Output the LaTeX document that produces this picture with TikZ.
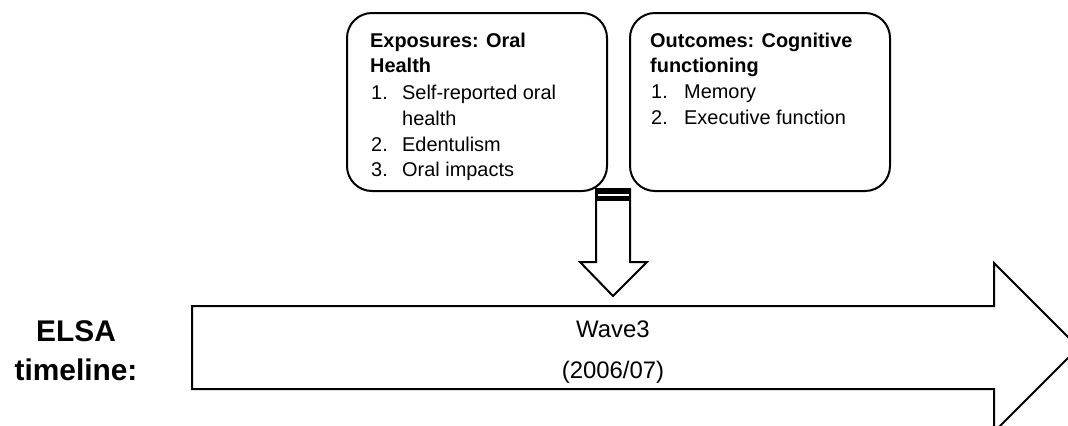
\documentclass[tikz,border=0pt]{standalone}
\usepackage{fontspec}
\setmainfont{Liberation Sans}
\begin{document}
\begin{tikzpicture}[x=1bp,y=-1bp,line join=miter,
  panel/.style={draw,line width=2bp,rounded corners=25bp,minimum width=260bp,minimum height=178bp,anchor=north west,inner sep=0,outer sep=0},
  headtxt/.style={font=\fontsize{20}{25}\selectfont\bfseries,anchor=base west,inner sep=0},
  itemtxt/.style={font=\fontsize{20}{25}\selectfont,anchor=base west,inner sep=0},
  wavetxt/.style={font=\fontsize{24}{28}\selectfont,anchor=base,inner sep=0},
  elsatxt/.style={font=\fontsize{30}{34}\selectfont\bfseries,anchor=base,inner sep=0},
  blockarrow/.style={draw,line width=2bp,fill=white}]
\useasboundingbox (0,0) rectangle (1068,425);
\clip (0,0) rectangle (1068,425);

% the two panels
\node[panel] (expo) at (347,13) {};
\node[panel] (outc) at (630,13) {};

% exposures panel text
\node[headtxt] (e1) at (370,47) {Exposures: Oral};
\node[headtxt] (e2) at (370,72) {Health};
\node[itemtxt] (e3n) at (371,99) {1.};
\node[itemtxt] (e3) at (402,99) {Self-reported oral};
\node[itemtxt] (e4) at (402,125) {health};
\node[itemtxt] (e5n) at (371,151) {2.};
\node[itemtxt] (e5) at (402,151) {Edentulism};
\node[itemtxt] (e6n) at (371,176) {3.};
\node[itemtxt] (e6) at (402,176) {Oral impacts};

% outcomes panel text
\node[headtxt] (o1) at (650,47) {Outcomes: Cognitive};
\node[headtxt] (o2) at (650,72) {functioning};
\node[itemtxt] (o3n) at (651,98) {1.};
\node[itemtxt] (o3) at (684,98) {Memory};
\node[itemtxt] (o4n) at (651,124) {2.};
\node[itemtxt] (o4) at (684,124) {Executive function};

% timeline arrow (its head runs past the right edge)
\coordinate (tl) at (192,306);
\coordinate (bl) at (192,389);
\draw[blockarrow] (tl) -- (994,306) -- (994,263) -- (1078.5,347.5) -- (994,432) -- (994,389) -- (bl) -- cycle;
\node[wavetxt] (w1) at (613,337) {Wave3};
\node[wavetxt] (w2) at (613,378) {(2006/07)};

% timeline label
\node[elsatxt] (l1) at (76,341) {ELSA};
\node[elsatxt] (l2) at (76,380) {timeline:};

% downward block arrow from the panels onto the timeline
\draw[blockarrow] (596,189) -- (630,189) -- (630,262) -- (647,262) -- (613,296) -- (580,262) -- (596,262) -- cycle;
\fill (596,189) rectangle (630,201);
\draw[white,line width=2.4bp] (597.5,195.2) -- (628.5,195.2);
\end{tikzpicture}
\end{document}
